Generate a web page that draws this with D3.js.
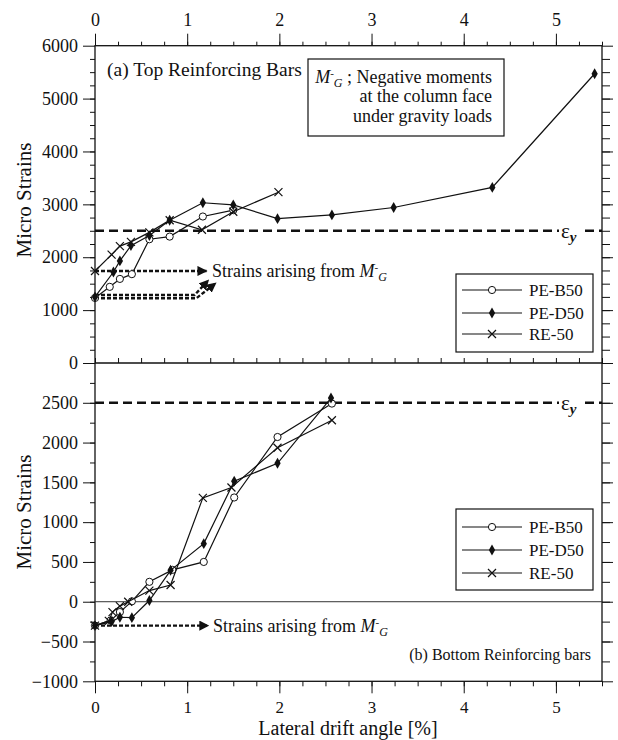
<!DOCTYPE html>
<html lang="en">
<head>
  <meta charset="UTF-8">
  <title>Micro strains vs lateral drift angle</title>
  <script src="https://d3js.org/d3.v7.min.js"></script>
  <style>
    body { margin: 0; background: #fff; }
    svg text { font-family: "Liberation Serif", "DejaVu Serif", serif; fill: #111; }
    .tick text { font-size: 18px; }
    .tick line { stroke: #111; }
  </style>
</head>
<body>
  <svg id="chart" width="618" height="740"></svg>

  <script>
    // series names + legend
    const seriesNames = ["PE-B50", "PE-D50", "RE-50"];
    const markerTypes = ["circle", "diamond", "cross"];

    // (a) top reinforcing bars
    const driftTopB50 = [0, 0.16, 0.27, 0.40, 0.59, 0.81, 1.17, 1.50];
    const strainTopB50 = [1230, 1440, 1590, 1680, 2340, 2390, 2770, 2890];
    const driftTopD50 = [0, 0.20, 0.27, 0.39, 0.59, 0.81, 1.17, 1.50, 1.98, 2.57, 3.24, 4.31, 5.42];
    const strainTopD50 = [1250, 1720, 1930, 2220, 2410, 2700, 3030, 2990, 2730, 2800, 2940, 3320, 5470];
    const driftTopRE = [0, 0.18, 0.27, 0.39, 0.59, 0.81, 1.16, 1.50, 1.99];
    const strainTopRE = [1740, 2050, 2210, 2290, 2470, 2700, 2520, 2860, 3230];

    // (b) bottom reinforcing bars
    const driftBotB50 = [0, 0.17, 0.27, 0.40, 0.59, 0.84, 1.18, 1.51, 1.98, 2.57];
    const strainBotB50 = [-300, -235, -130, 5, 250, 400, 500, 1310, 2070, 2490];
    const driftBotD50 = [0, 0.18, 0.27, 0.40, 0.59, 0.82, 1.18, 1.51, 1.98, 2.56];
    const strainBotD50 = [-300, -250, -195, -200, 15, 395, 730, 1515, 1740, 2560];
    const driftBotRE = [0, 0.15, 0.19, 0.27, 0.36, 0.59, 0.82, 1.17, 1.48, 1.98, 2.57];
    const strainBotRE = [-300, -240, -130, -55, 0, 140, 210, 1305, 1435, 1935, 2280];

    const yieldStrain = 2500;

    // "strains arising from M-G" arrows: [drift, strain] pairs
    const arrowTopFlat = [[0, 1740], [1.21, 1740]];
    const arrowTopBent1 = [[0, 1285], [1.08, 1285], [1.23, 1565]];
    const arrowTopBent2 = [[0, 1225], [1.10, 1225], [1.31, 1510]];
    const arrowBot = [[0, -300], [1.23, -300]];

    const xTicks = [0, 1, 2, 3, 4, 5];
    const yTopTicks = [0, 1000, 2000, 3000, 4000, 5000, 6000];
    const yBotTicks = [-1000, -500, 0, 500, 1000, 1500, 2000, 2500];

    const svg = d3.select("#chart");
    const left = 95, right = 602, topY = 45.7, midY = 363, botY = 681.3;

    const x = d3.scaleLinear().domain([0, 5.5]).range([left, right]);
    const yTop = d3.scaleLinear().domain([0, 6000]).range([midY, topY]);
    const yBot = d3.scaleLinear().domain([-1000, 3000]).range([botY, midY]);

    const minorX = d3.range(0, 5.51, 0.25);

    function axis(gen, tf, size, pad, labels) {
      const g = svg.append("g").attr("transform", tf)
        .call(gen.tickSize(size).tickSizeOuter(0).tickPadding(pad)
          .tickFormat(labels ? d3.format("d") : () => ""));
      g.select(".domain").remove();
      g.attr("font-family", null).attr("font-size", null);
      if (!labels) g.selectAll("text").remove();
      return g;
    }

    // x axes
    axis(d3.axisTop(x).tickValues(minorX), `translate(0,${topY})`, 4, 0, false);
    axis(d3.axisTop(x).tickValues(xTicks), `translate(0,${topY})`, 12, 8, true);
    axis(d3.axisBottom(x).tickValues(minorX), `translate(0,${botY})`, 5, 0, false);
    axis(d3.axisBottom(x).tickValues(xTicks), `translate(0,${botY})`, 12, 8, true)
      .selectAll("text").style("font-size", "17px");
    axis(d3.axisTop(x).tickValues(minorX), `translate(0,${midY})`, 5, 0, false);

    // y axes, top panel
    axis(d3.axisLeft(yTop).tickValues(d3.range(250, 6000, 250)), `translate(${left},0)`, 5, 0, false);
    axis(d3.axisLeft(yTop).tickValues(yTopTicks), `translate(${left},0)`, 12, 5, true);
    axis(d3.axisRight(yTop).tickValues(d3.range(250, 6000, 250)), `translate(${right},0)`, 8, 0, false);
    axis(d3.axisRight(yTop).tickValues(yTopTicks), `translate(${right},0)`, 11, 0, false);

    // y axes, bottom panel
    axis(d3.axisLeft(yBot).tickValues(d3.range(-750, 3000, 250)), `translate(${left},0)`, 5, 0, false);
    axis(d3.axisLeft(yBot).tickValues(yBotTicks), `translate(${left},0)`, 12, 5, true);
    axis(d3.axisRight(yBot).tickValues(d3.range(-750, 3000, 250)), `translate(${right},0)`, 8, 0, false);
    axis(d3.axisRight(yBot).tickValues(yBotTicks), `translate(${right},0)`, 11, 0, false);

    // frames
    svg.append("rect").attr("x", left).attr("y", topY)
      .attr("width", right - left).attr("height", botY - topY)
      .attr("fill", "none").attr("stroke", "#111").attr("stroke-width", 1.3);
    svg.append("line").attr("x1", left).attr("x2", right)
      .attr("y1", midY).attr("y2", midY).attr("stroke", "#111").attr("stroke-width", 1.3);
    svg.append("line").attr("x1", left).attr("x2", right)
      .attr("y1", yBot(0)).attr("y2", yBot(0)).attr("stroke", "#333").attr("stroke-width", 1);

    // yield strain dashed lines
    [yTop, yBot].forEach(y => {
      svg.append("line").attr("x1", left).attr("x2", right)
        .attr("y1", y(yieldStrain)).attr("y2", y(yieldStrain))
        .attr("stroke", "#111").attr("stroke-width", 2.6).attr("stroke-dasharray", "9,5");
      svg.append("rect").attr("x", 559).attr("y", y(yieldStrain) - 10)
        .attr("width", 24).attr("height", 22).attr("fill", "#fff");
      const t = svg.append("text").attr("x", 561).attr("y", y(yieldStrain) + 7)
        .style("font-size", "21px");
      t.append("tspan").text("ε");
      t.append("tspan").attr("dy", 4).style("font-size", "15px")
        .style("font-style", "italic").style("font-weight", "bold").text("y");
    });

    // arrows
    const defs = svg.append("defs");
    defs.append("marker").attr("id", "head").attr("viewBox", "0 0 10 10")
      .attr("refX", 9).attr("refY", 5).attr("markerWidth", 4.2).attr("markerHeight", 4.2)
      .attr("markerUnits", "strokeWidth").attr("orient", "auto")
      .append("path").attr("d", "M0,0L10,5L0,10Z").attr("fill", "#111");

    function arrow(pts, y) {
      svg.append("path")
        .attr("d", d3.line().x(d => x(d[0])).y(d => y(d[1]))(pts))
        .attr("fill", "none").attr("stroke", "#111").attr("stroke-width", 2.4)
        .attr("stroke-dasharray", "4,2").attr("marker-end", "url(#head)");
    }
    arrow(arrowTopBent1, yTop);
    arrow(arrowTopBent2, yTop);
    arrow(arrowTopFlat, yTop);
    arrow(arrowBot, yBot);

    // M with superscript minus and subscript G
    function appendMG(t) {
      t.append("tspan").style("font-style", "italic").text("M");
      t.append("tspan").attr("dy", -6).style("font-size", "11px").text("-");
      t.append("tspan").attr("dy", 10).style("font-size", "12px")
        .style("font-style", "italic").text("G");
    }

    function mgLabel(xp, yp) {
      const t = svg.append("text").attr("x", xp).attr("y", yp)
        .style("font-size", "18px");
      t.append("tspan").text("Strains arising from ");
      appendMG(t);
    }
    mgLabel(212, yTop(1740) + 6);
    mgLabel(213, yBot(-300) + 6);

    // series
    const topSeries = [
      d3.zip(driftTopB50, strainTopB50),
      d3.zip(driftTopD50, strainTopD50),
      d3.zip(driftTopRE, strainTopRE)
    ];
    const botSeries = [
      d3.zip(driftBotB50, strainBotB50),
      d3.zip(driftBotD50, strainBotD50),
      d3.zip(driftBotRE, strainBotRE)
    ];

    function marker(g, type, cx, cy) {
      if (type === "circle") {
        g.append("circle").attr("cx", cx).attr("cy", cy).attr("r", 3.6)
          .attr("fill", "#fff").attr("stroke", "#111").attr("stroke-width", 1);
      } else if (type === "diamond") {
        g.append("path").attr("transform", `translate(${cx},${cy})`)
          .attr("d", d3.symbol(d3.symbolDiamond, 34)()).attr("fill", "#111");
      } else {
        g.append("path").attr("transform", `translate(${cx},${cy})`)
          .attr("d", "M-4,-4L4,4M-4,4L4,-4").attr("stroke", "#111").attr("stroke-width", 1.2);
      }
    }

    function drawPanel(series, y) {
      series.forEach((pts, i) => {
        const g = svg.append("g");
        g.append("path")
          .attr("d", d3.line().x(d => x(d[0])).y(d => y(d[1]))(pts))
          .attr("fill", "none").attr("stroke", "#111").attr("stroke-width", 1.2);
        pts.forEach(d => marker(g, markerTypes[i], x(d[0]), y(d[1])));
      });
    }
    drawPanel(topSeries, yTop);
    drawPanel(botSeries, yBot);

    // legends
    function legend(top, bottom, rows) {
      svg.append("rect").attr("x", 456).attr("y", top)
        .attr("width", 137).attr("height", bottom - top)
        .attr("fill", "#fff").attr("stroke", "#111").attr("stroke-width", 1.2);
      seriesNames.forEach((name, i) => {
        const g = svg.append("g");
        g.append("line").attr("x1", 462).attr("x2", 522)
          .attr("y1", rows[i]).attr("y2", rows[i]).attr("stroke", "#111").attr("stroke-width", 1.2);
        marker(g, markerTypes[i], 492, rows[i]);
        g.append("text").attr("x", 529).attr("y", rows[i] + 6)
          .style("font-size", "17px").text(name);
      });
    }
    legend(274, 352, [290, 313, 334]);
    legend(509, 590, [527, 550, 573]);

    // panel titles
    svg.append("text").attr("x", 107).attr("y", 76)
      .style("font-size", "19.5px").text("(a) Top Reinforcing Bars");
    svg.append("text").attr("x", 591).attr("y", 660).attr("text-anchor", "end")
      .style("font-size", "16px").text("(b) Bottom Reinforcing bars");

    // note box
    svg.append("rect").attr("x", 308).attr("y", 59).attr("width", 196).attr("height", 77)
      .attr("fill", "#fff").attr("stroke", "#111").attr("stroke-width", 1.2);
    const note = svg.append("text").attr("x", 492).attr("y", 83).attr("text-anchor", "end")
      .style("font-size", "18px");
    appendMG(note);
    note.append("tspan").attr("dy", -4).text(" ; Negative moments");
    svg.append("text").attr("x", 492).attr("y", 102).attr("text-anchor", "end")
      .style("font-size", "18px").text("at the column face");
    svg.append("text").attr("x", 492).attr("y", 122).attr("text-anchor", "end")
      .style("font-size", "18px").text("under gravity loads");

    // axis titles
    [[200, "Micro Strains"], [512, "Micro Strains"]].forEach(([cy, txt]) => {
      svg.append("text").attr("transform", `translate(31,${cy}) rotate(-90)`)
        .attr("text-anchor", "middle").style("font-size", "21px").text(txt);
    });
    svg.append("text").attr("x", 348).attr("y", 735).attr("text-anchor", "middle")
      .style("font-size", "20px").text("Lateral drift angle [%]");
  </script>
</body>
</html>
